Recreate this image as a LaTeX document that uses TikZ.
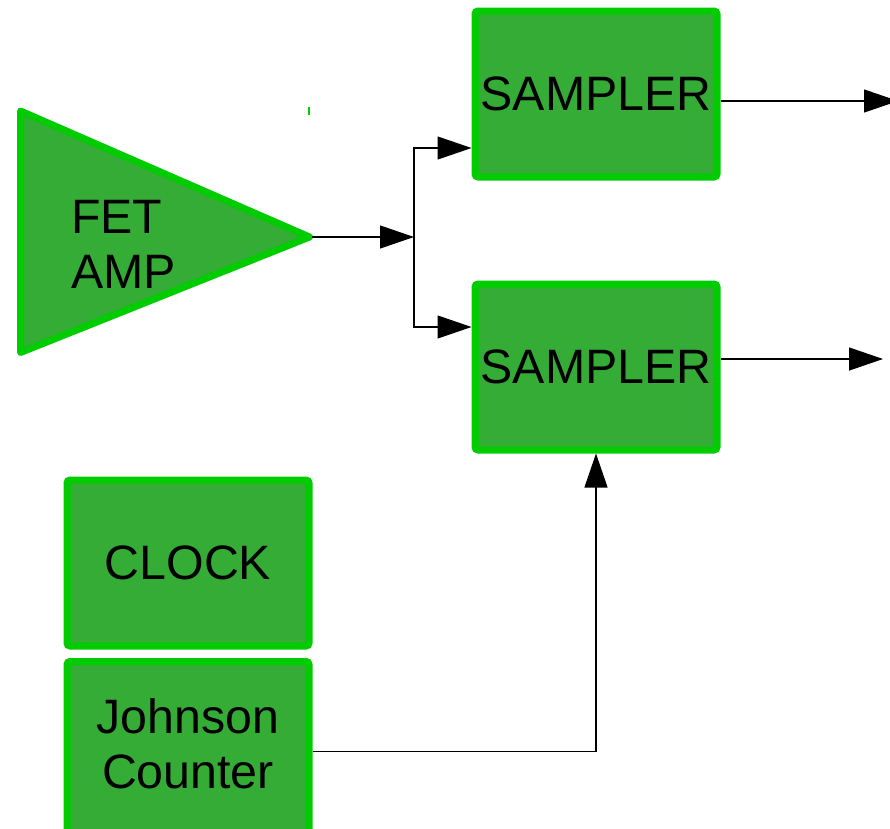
\documentclass[tikz,border=0pt]{standalone}
\usepackage{fontspec}
\setmainfont{Liberation Sans}
\usetikzlibrary{arrows.meta}
\definecolor{blockfill}{RGB}{53,172,53}
\definecolor{blockedge}{RGB}{0,204,0}
\tikzset{
  block/.style={draw=blockedge, fill=blockfill, line width=7pt, rounded corners=3pt,
    minimum width=242pt, minimum height=166pt, inner sep=0pt,
    font=\fontsize{48.3}{55}\selectfont, align=center},
  blocktext/.style={font=\fontsize{48.3}{55}\selectfont, inner sep=0pt},
  wire/.style={draw=black, line width=1.2pt},
  sig/.style={wire, -{Triangle[length=34pt,width=23pt]}},
}
\begin{document}
\begin{tikzpicture}[x=1pt,y=-1pt]
\useasboundingbox (0,0) rectangle (890,828);
\clip (0,0) rectangle (890,828);

% amplifier triangle
\draw[draw=blockedge, fill=blockfill, line width=7pt, line join=round]
  (20.5,111) -- (309.5,237) -- (20.5,352.5) -- cycle;
\coordinate (amptip) at (312,237);
\node[blocktext, align=left, anchor=west] (amp) at (71,244) {FET\\AMP};

% stray mark
\draw[blockedge, line width=1.5pt] (309,107) -- (309,115);

% blocks
\node[block] (samp1) at (596,94) {SAMPLER};
\node[block] (samp2) at (596,367) {SAMPLER};
\node[block] (clock) at (188,563) {CLOCK};
\node[block, minimum height=180pt] (john) at (188,751.5) {};
\node[blocktext, align=center] (johntext) at (188,744) {Johnson\\Counter};

% splitting point
\coordinate (split) at (414,237);
\coordinate (out1) at (898,101);
\coordinate (out2) at (883,359);

\draw[sig] (amptip) -- (split);
\draw[sig] (split) |- (samp1.west |- 0,148);
\draw[sig] (split) |- (samp2.west |- 0,327);
\draw[sig] (samp1.east |- 0,101) -- (out1);
\draw[sig] (samp2.east |- 0,359) -- (out2);
\draw[sig] (john.east) -| (samp2.south);
\end{tikzpicture}
\end{document}
